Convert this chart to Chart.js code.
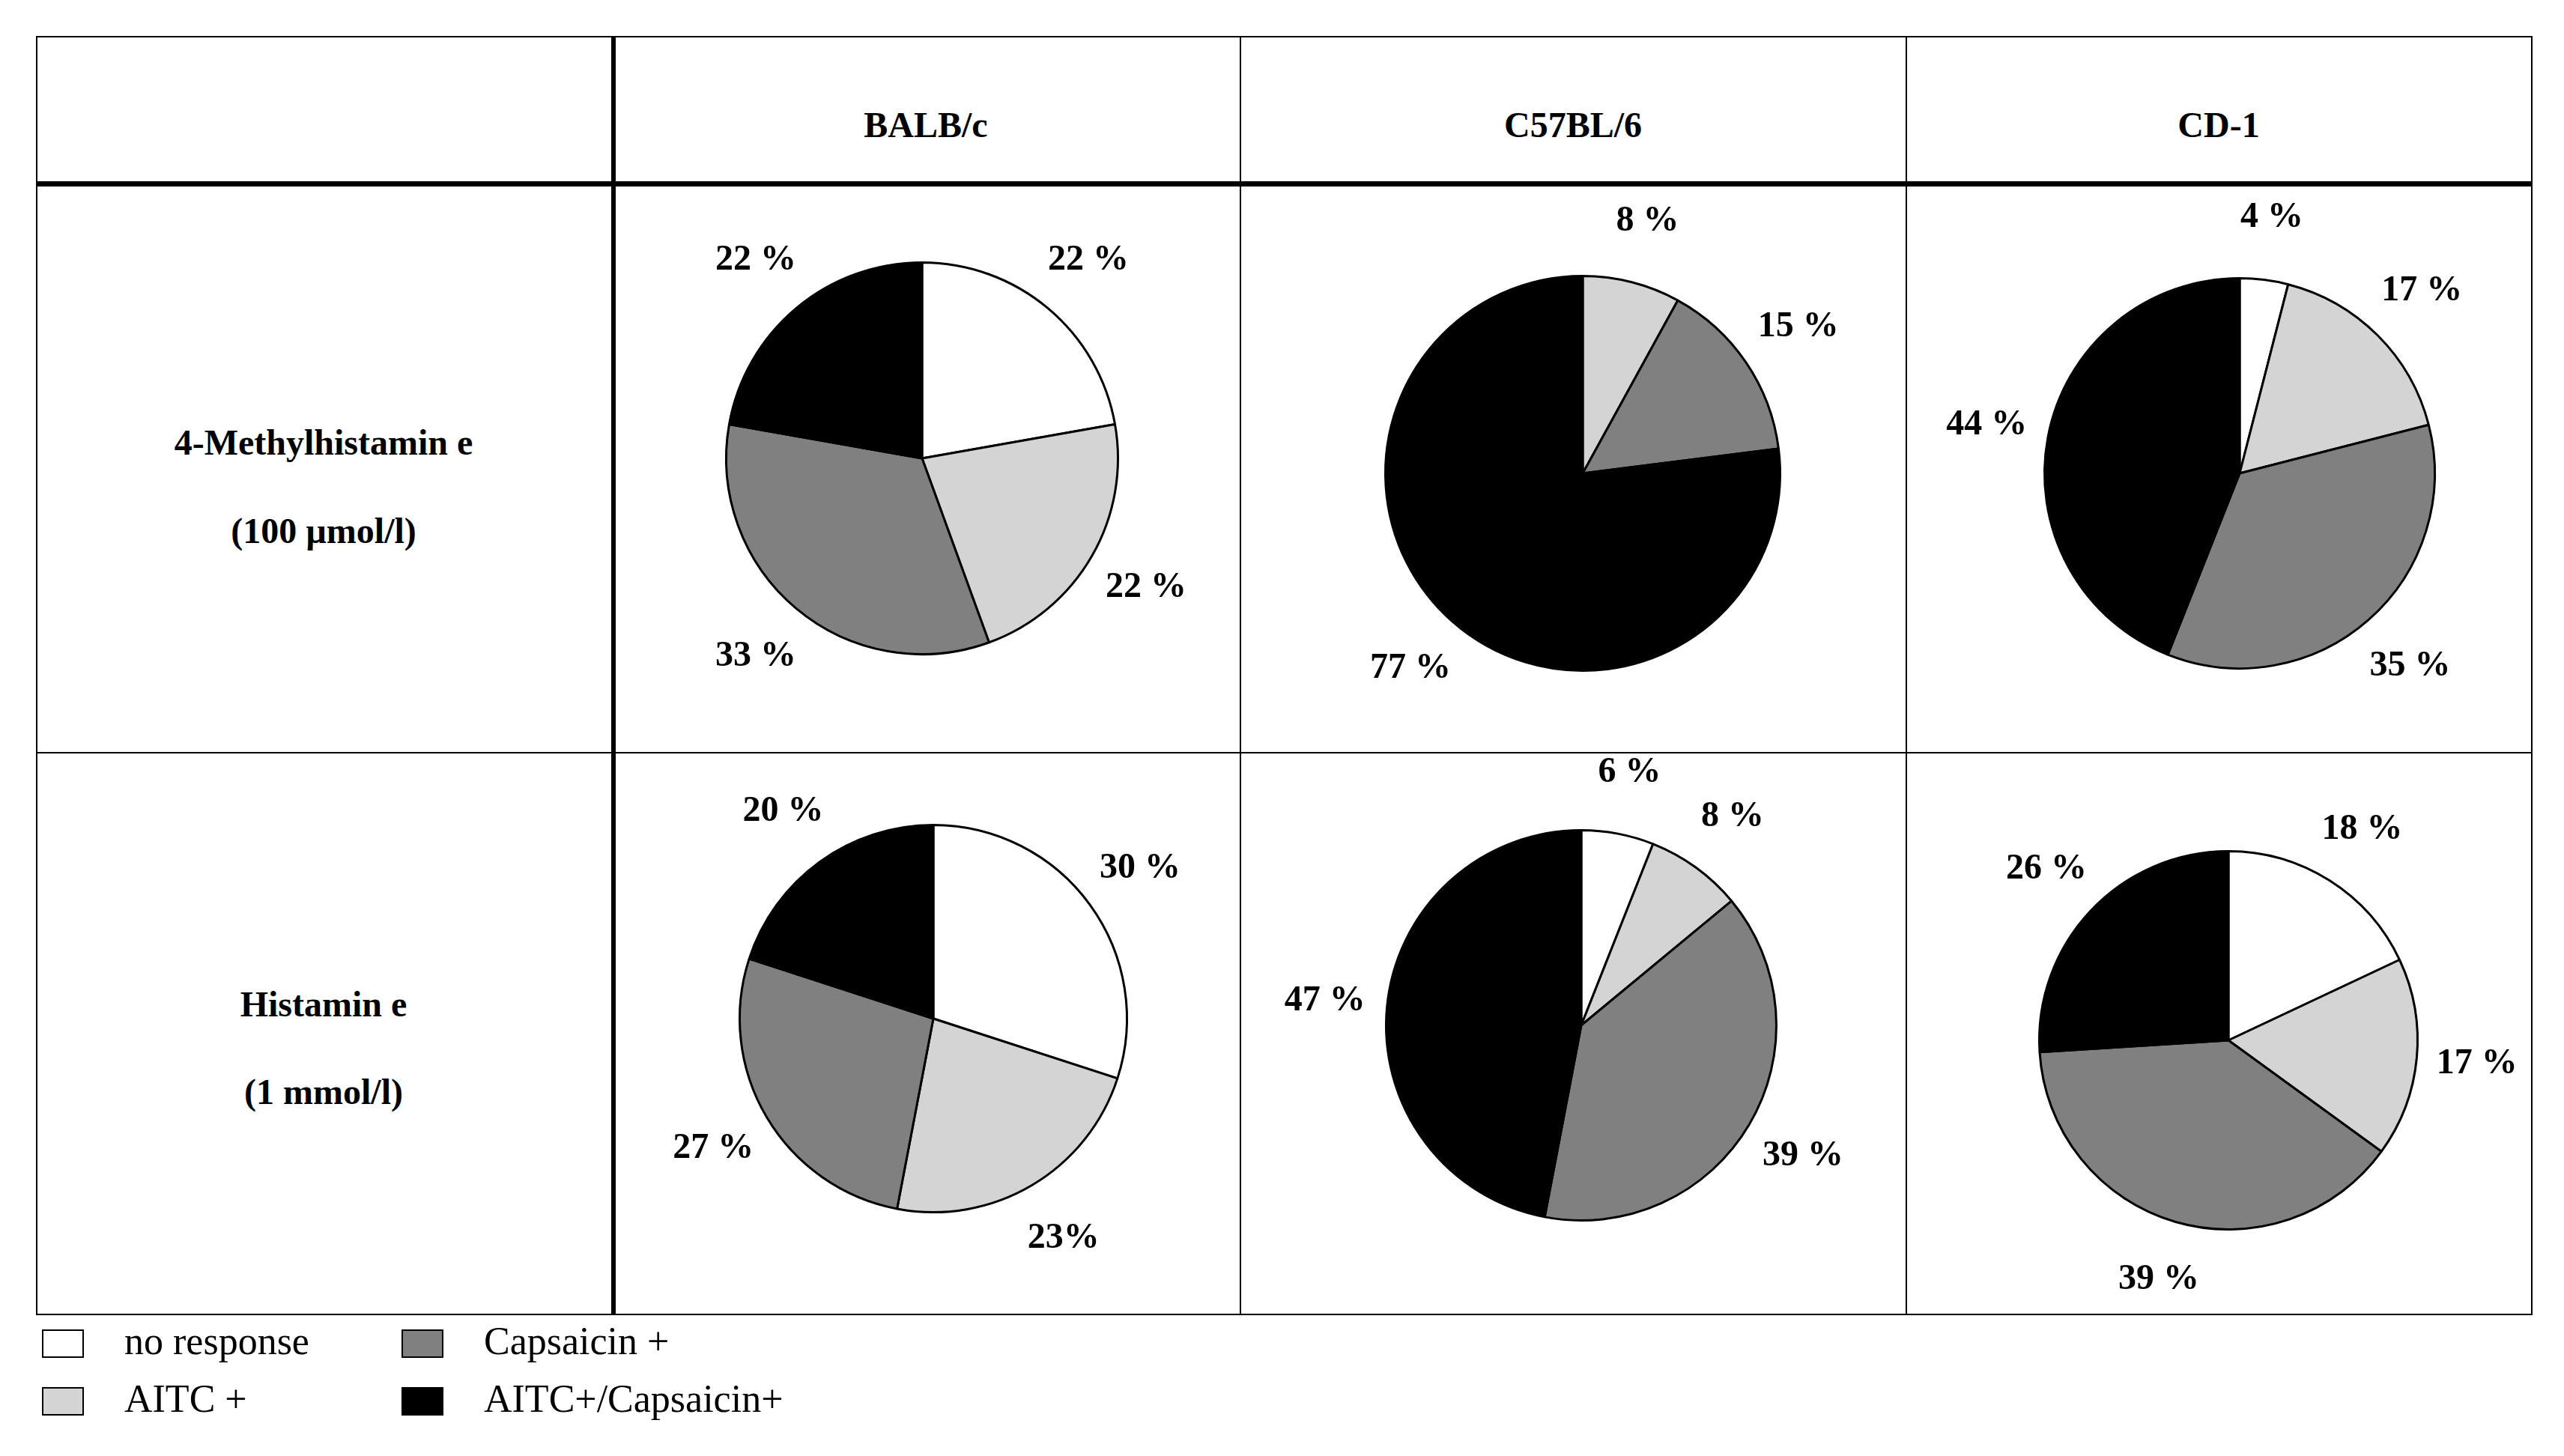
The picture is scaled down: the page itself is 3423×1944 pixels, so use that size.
<!DOCTYPE html>
<html><head><meta charset="utf-8">
<script src="https://cdn.jsdelivr.net/npm/chart.js@4"></script>
<style>
body{margin:0;background:#fff;width:3423px;height:1944px;position:relative;overflow:hidden;font-family:"Liberation Serif",serif}
.l{position:absolute;background:#000}
.t{position:absolute;font-weight:bold;font-size:48px;text-align:center;transform:translate(-50%,-50%);white-space:nowrap}
canvas{position:absolute}
.lg{position:absolute;font-size:52px;white-space:nowrap}
.sw{position:absolute;width:56px;height:38px;border:2px solid #000;box-sizing:border-box}
</style></head><body>
<script>
const strains=["BALB/c","C57BL/6","CD-1"];
const rowLabels=[["4-Methylhistamin e","(100 µmol/l)"],["Histamin e","(1 mmol/l)"]];
const categories=["no response","AITC +","Capsaicin +","AITC+/Capsaicin+"];
const colors=["#ffffff","#d4d4d4","#808080","#000000"];
const row1Values=[[22,22,33,22],[0,8,15,77],[4,17,35,44]];
const row2Values=[[30,23,27,20],[6,8,39,47],[18,17,39,26]];
const row1Labels=[["22 %","22 %","33 %","22 %"],["","8 %","15 %","77 %"],["4 %","17 %","35 %","44 %"]];
const row2Labels=[["30 %","23%","27 %","20 %"],["6 %","8 %","39 %","47 %"],["18 %","17 %","39 %","26 %"]];

function line(x,y,w,h){const d=document.createElement('div');d.className='l';Object.assign(d.style,{left:x+'px',top:y+'px',width:w+'px',height:h+'px'});document.body.appendChild(d);}
function text(s,x,y){const d=document.createElement('div');d.className='t';d.textContent=s;d.style.left=x+'px';d.style.top=y+'px';document.body.appendChild(d);}
// table
line(48,48,3333,2);line(48,1754,3333,2);line(48,48,2,1708);line(3379,48,2,1708);
line(48,242,3333,7);line(48,1004,3333,2);
line(816,48,6,1708);line(1655,48,2,1708);line(2544,48,2,1708);
const colCx=[1236,2100,2962];
strains.forEach((s,i)=>text(s,colCx[i],166));
text(rowLabels[0][0],432,590);text(rowLabels[0][1],432,708);
text(rowLabels[1][0],432,1340);text(rowLabels[1][1],432,1457);

const labelPlugin={id:'lbl',afterDraw(ch){const o=ch.options.plugins.lbl;const ctx=ch.ctx;const meta=ch.getDatasetMeta(0);
 ctx.save();ctx.font='bold 48px "Liberation Serif"';ctx.fillStyle='#000';ctx.textAlign='center';ctx.textBaseline='middle';
 meta.data.forEach((a,i)=>{const t=o.labels[i];if(!t)return;const m=(a.startAngle+a.endAngle)/2;const r=a.outerRadius*1.32;
 ctx.fillText(t,a.x+Math.cos(m)*r,a.y+Math.sin(m)*r);});ctx.restore();}};

function pie(cx,cy,r,vals,labs){const pad=140;const s=2*(r+pad);const c=document.createElement('canvas');
 c.style.left=(cx-s/2)+'px';c.style.top=(cy-s/2)+'px';c.style.width=s+'px';c.style.height=s+'px';c.width=s;c.height=s;document.body.appendChild(c);
 new Chart(c,{type:'pie',plugins:[labelPlugin],data:{labels:categories,datasets:[{data:vals,backgroundColor:colors,borderColor:'#000',borderWidth:3}]},
 options:{responsive:false,animation:false,layout:{padding:pad},plugins:{legend:{display:false},tooltip:{enabled:false},lbl:{labels:labs}}}});}
const r1=[[1231,612,263],[2113,632,265],[2990,632,262]];
const r2=[[1246,1360,260],[2111,1369,262],[2975,1389,254]];
r1.forEach((p,i)=>pie(p[0],p[1],p[2],row1Values[i],row1Labels[i]));
r2.forEach((p,i)=>pie(p[0],p[1],p[2],row2Values[i],row2Labels[i]));
// legend
const lp=[[56,1775],[536,1775],[56,1852],[536,1852]];
const order=[0,2,1,3];
order.forEach((k,j)=>{const [x,y]=lp[j];const sw=document.createElement('div');sw.className='sw';sw.style.left=x+'px';sw.style.top=y+'px';sw.style.background=colors[k];document.body.appendChild(sw);
 const d=document.createElement('div');d.className='lg';d.textContent=categories[k];d.style.left=(x+110)+'px';d.style.top=(y-14)+'px';document.body.appendChild(d);});
</script>
</body></html>
